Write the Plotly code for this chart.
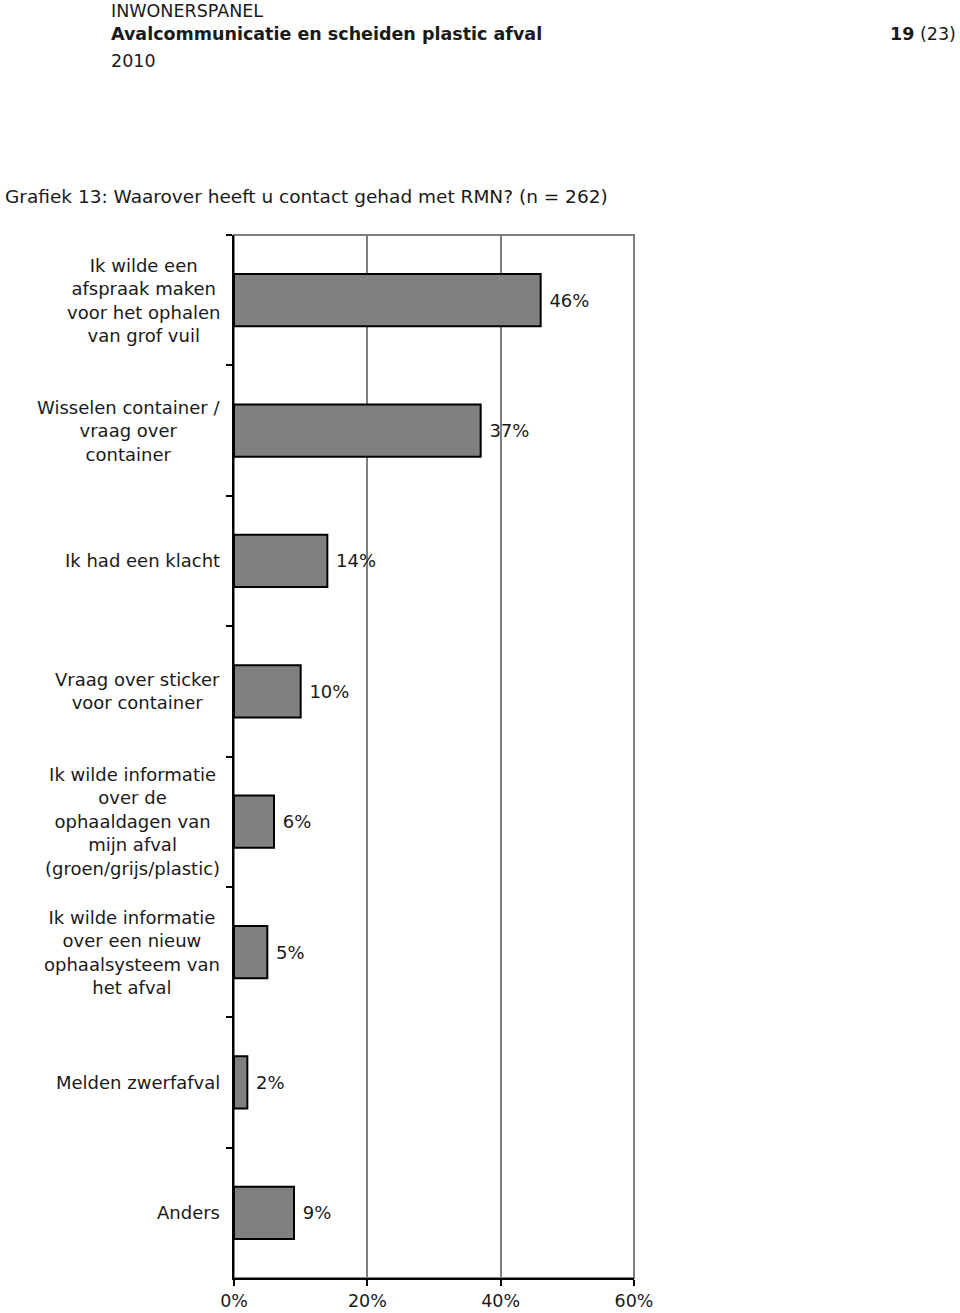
import plotly.graph_objects as go

categories = [
    "Ik wilde een<br>afspraak maken<br>voor het ophalen<br>van grof vuil",
    "Wisselen container /<br>vraag over<br>container",
    "Ik had een klacht",
    "Vraag over sticker<br>voor container",
    "Ik wilde informatie<br>over de<br>ophaaldagen van<br>mijn afval<br>(groen/grijs/plastic)",
    "Ik wilde informatie<br>over een nieuw<br>ophaalsysteem van<br>het afval",
    "Melden zwerfafval",
    "Anders",
]
values = [46, 37, 14, 10, 6, 5, 2, 9]
tick_vals = [0, 20, 40, 60]
tick_text = ["0%", "20%", "40%", "60%"]

FONT = "DejaVu Sans"
TXT = "#1a1a1a"

W, H = 960, 1313
L, R, T, B = 234, 326, 235, 35

def px(xp, yp):
    return (xp - L) / (W - L - R), 1 - (yp - T) / (H - T - B)

fig = go.Figure()
fig.add_trace(go.Bar(
    x=values, y=categories, orientation="h",
    marker=dict(color="#808080", line=dict(color="black", width=2)),
    width=0.4,
    texttemplate="\u00a0%{x}%", textposition="outside",
    textfont=dict(family=FONT, size=18, color=TXT),
    cliponaxis=False, hoverinfo="skip",
))

for c in categories:
    fig.add_annotation(
        x=0, xref="x", y=c, yref="y", text=c, showarrow=False,
        xanchor="right", yanchor="middle", align="center", xshift=-12,
        font=dict(family=FONT, size=18, color=TXT),
    )

hdr = [
    (109, 11, "INWONERSPANEL", 17.5, "left"),
    (109, 34, "<b>Avalcommunicatie en scheiden plastic afval</b>", 17.5, "left"),
    (109, 61, "2010", 17.5, "left"),
    (958, 34, "<b>19</b> (23)", 17.5, "right"),
    (3, 197, "Grafiek 13: Waarover heeft u contact gehad met RMN? (n = 262)", 18.5, "left"),
]
for xp, yp, t, s, anc in hdr:
    xx, yy = px(xp, yp)
    fig.add_annotation(x=xx, y=yy, xref="paper", yref="paper", text=t, showarrow=False,
                       xanchor=anc, yanchor="middle",
                       font=dict(family=FONT, size=s, color=TXT))

# plot frame (gray)
fig.add_shape(type="rect", xref="paper", yref="paper", x0=0, x1=1, y0=0, y1=1,
              line=dict(color="#808080", width=2), layer="below")

fig.update_layout(
    width=W, height=H,
    margin=dict(l=L, r=R, t=T, b=B, pad=0, autoexpand=False),
    paper_bgcolor="white", plot_bgcolor="white",
    showlegend=False,
    bargap=0.6,
    xaxis=dict(range=[0, 60], tickvals=tick_vals, ticktext=tick_text,
               showgrid=True, gridcolor="#808080", gridwidth=2,
               showline=True, linecolor="black", linewidth=2,
               ticks="outside", ticklen=6, tickwidth=2, tickcolor="black",
               ticklabelstandoff=0, automargin=False,
               tickfont=dict(family=FONT, size=17.5, color=TXT),
               zeroline=False, fixedrange=True),
    yaxis=dict(autorange="reversed", showticklabels=False, automargin=False,
               showline=True, linecolor="black", linewidth=2,
               ticks="outside", ticklen=6, tickwidth=2, tickcolor="black",
               tickson="boundaries", showgrid=False, zeroline=False,
               fixedrange=True),
)

fig.write_html("out.html", config={"displayModeBar": False, "staticPlot": True},
               post_script="document.body.style.margin='0';document.body.style.overflow='hidden';")
